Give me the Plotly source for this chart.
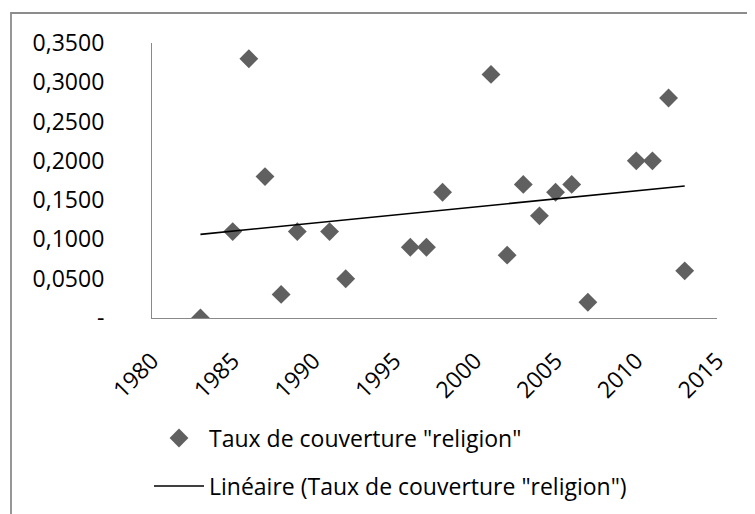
import numpy as np
import plotly.graph_objects as go

years = [1983, 1985, 1986, 1987, 1988, 1989, 1991, 1992, 1996, 1997, 1998,
         2001, 2002, 2003, 2004, 2005, 2006, 2007, 2010, 2011, 2012, 2013]
taux = [0.00, 0.11, 0.33, 0.18, 0.03, 0.11, 0.11, 0.05, 0.09, 0.09, 0.16,
        0.31, 0.08, 0.17, 0.13, 0.16, 0.17, 0.02, 0.20, 0.20, 0.28, 0.06]

y_tickvals = [0, 0.05, 0.10, 0.15, 0.20, 0.25, 0.30, 0.35]
y_ticktext = ["-", "0,0500", "0,1000", "0,1500", "0,2000", "0,2500", "0,3000", "0,3500"]
x_tickvals = [1980, 1985, 1990, 1995, 2000, 2005, 2010, 2015]
x_ticktext = [str(v) for v in x_tickvals]

name_pts = 'Taux de couverture "religion"'
name_lin = 'Linéaire (Taux de couverture "religion")'

slope, intercept = np.polyfit(years, taux, 1)
trend_x = [min(years), max(years)]
trend_y = [slope * v + intercept for v in trend_x]

W, H = 755, 514
OFF = 8  # default page body margin
L, T = 152 - OFF, 43 - OFF
R = W - (717 - OFF)
B = H - (318 - OFF)
pw, ph = W - L - R, H - T - B

def px(x):
    return (x - OFF - L) / pw

def py(y):
    return (H - B - (y - OFF)) / ph

font = "Open Sans"
fs = 23

fig = go.Figure()
fig.add_trace(go.Scatter(
    x=years, y=taux, mode="markers", name=name_pts,
    marker=dict(symbol="diamond", size=14.5, color="#606060", line=dict(width=0)),
    legend="legend", showlegend=True,
))
fig.add_trace(go.Scatter(
    x=trend_x, y=trend_y, mode="lines", name=name_lin,
    line=dict(color="black", width=1.6),
    legend="legend2", showlegend=True,
))

fig.update_layout(
    width=W, height=H,
    showlegend=True,
    margin=dict(l=L, r=R, t=T, b=B, pad=0, autoexpand=False),
    paper_bgcolor="white", plot_bgcolor="white",
    font=dict(family=font, size=fs, color="black"),
    xaxis=dict(range=[1980, 2015], tickvals=x_tickvals, ticktext=x_ticktext,
               tickangle=-45, showgrid=False, zeroline=False, showline=True,
               linecolor="#898989", linewidth=1.2, ticks="", ticklabelstandoff=19,
               automargin=False, tickfont=dict(family=font, size=fs)),
    yaxis=dict(range=[0, 0.35], tickvals=y_tickvals, ticktext=y_ticktext,
               showgrid=False, zeroline=False, showline=True,
               linecolor="#898989", linewidth=1.2, ticks="", ticklabelstandoff=42,
               automargin=False, tickfont=dict(family=font, size=fs)),
    legend=dict(x=px(149), y=py(438), xanchor="left", yanchor="middle",
                itemwidth=50, bgcolor="rgba(0,0,0,0)", visible=True,
                font=dict(family=font, size=fs)),
    legend2=dict(x=px(149), y=py(486), xanchor="left", yanchor="middle",
                 itemwidth=50, bgcolor="rgba(0,0,0,0)", visible=True,
                 font=dict(family=font, size=fs)),
    shapes=[dict(type="rect", xref="paper", yref="paper",
                 x0=px(11), x1=px(790), y0=py(560), y1=py(13),
                 line=dict(color="#8c8c8c", width=1.8), fillcolor="rgba(0,0,0,0)",
                 layer="below")],
)

fig.write_html("out.html")
